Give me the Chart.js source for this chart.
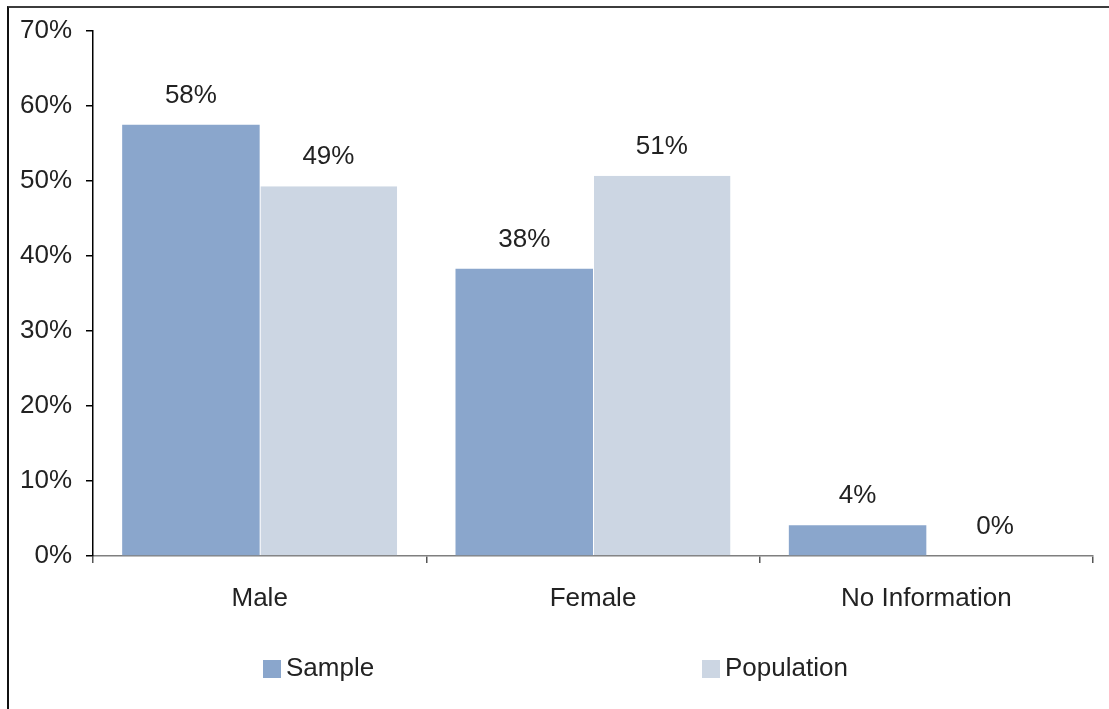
<!DOCTYPE html>
<html>
<head>
<meta charset="utf-8">
<script src="https://cdn.jsdelivr.net/npm/chart.js@4/dist/chart.umd.min.js"></script>
<style>
  html, body { margin: 0; padding: 0; background: #fff; }
  #wrap { position: relative; width: 1109px; height: 709px; overflow: hidden; }
  #frame {
    position: absolute; left: 7px; top: 6px; width: 1200px; height: 800px;
    border-top: 2px solid #3c3c3c; border-left: 2px solid #111;
    pointer-events: none;
  }
  canvas { position: absolute; left: 0; top: 0; }
</style>
</head>
<body>
<div id="wrap">
  <canvas id="chart" width="1109" height="709"></canvas>
  <div id="frame"></div>
</div>
<script>
const categories = ['Male', 'Female', 'No Information']
const sampleValues = [57.5, 38.3, 4.1]
const populationValues = [49.3, 50.7, 0]
const yTicks = [0, 10, 20, 30, 40, 50, 60, 70]

const FONT = '"Liberation Sans", Arial, sans-serif'
const TEXT = '#222222'
const SIZE = 26

// value labels above the bars
const barLabels = {
  id: 'barLabels',
  afterDatasetsDraw(chart) {
    const ctx = chart.ctx
    ctx.save()
    ctx.font = SIZE + 'px ' + FONT
    ctx.fillStyle = TEXT
    ctx.textAlign = 'center'
    ctx.textBaseline = 'middle'
    chart.data.datasets.forEach((ds, i) => {
      chart.getDatasetMeta(i).data.forEach((bar, j) => {
        ctx.fillText(Math.round(ds.data[j]) + '%', bar.x, bar.y - 29)
      })
    })
    ctx.restore()
  },
}

// legend spread like the original
const spreadLegend = {
  id: 'spreadLegend',
  afterDraw(chart) {
    const ctx = chart.ctx
    const xs = [263, 702]
    ctx.save()
    ctx.font = SIZE + 'px ' + FONT
    ctx.textBaseline = 'middle'
    chart.data.datasets.forEach((ds, i) => {
      ctx.fillStyle = ds.backgroundColor
      ctx.fillRect(xs[i], 660, 18, 18)
      ctx.fillStyle = TEXT
      ctx.fillText(ds.label, xs[i] + 23, 669)
    })
    ctx.restore()
  },
}

new Chart(document.getElementById('chart').getContext('2d'), {
  type: 'bar',
  data: {
    labels: categories,
    datasets: [
      {
        label: 'Sample',
        data: sampleValues,
        backgroundColor: '#8aa6cc',
        borderWidth: 0,
      },
      {
        label: 'Population',
        data: populationValues,
        backgroundColor: '#ccd6e3',
        borderColor: '#ffffff',
        borderWidth: { left: 1, right: 0, top: 0, bottom: 0 },
      },
    ],
  },
  options: {
    responsive: false,
    animation: false,
    devicePixelRatio: 1,
    layout: { padding: { top: 31, right: 16, left: 0, bottom: 0 } },
    datasets: { bar: { categoryPercentage: 0.825, barPercentage: 1 } },
    plugins: { legend: { display: false }, tooltip: { enabled: false } },
    scales: {
      x: {
        afterFit: (s) => { s.height = 153 },
        border: { color: '#7f7f7f', width: 1.5 },
        grid: { drawOnChartArea: false, drawTicks: true, tickLength: 7, color: '#555', lineWidth: 1.5 },
        ticks: { color: TEXT, font: { family: FONT, size: SIZE }, padding: 20, maxRotation: 0 },
      },
      y: {
        min: 0,
        max: 70,
        afterFit: (s) => { s.width = 93 },
        afterBuildTicks: (s) => { s.ticks = yTicks.map((v) => ({ value: v })) },
        border: { color: '#000', width: 1.5 },
        grid: { drawOnChartArea: false, drawTicks: true, tickLength: 7, color: '#000', lineWidth: 1.5 },
        ticks: {
          color: TEXT,
          font: { family: FONT, size: SIZE },
          padding: 14,
          callback: (v) => v + '%',
        },
      },
    },
  },
  plugins: [barLabels, spreadLegend],
})
</script>
</body>
</html>
